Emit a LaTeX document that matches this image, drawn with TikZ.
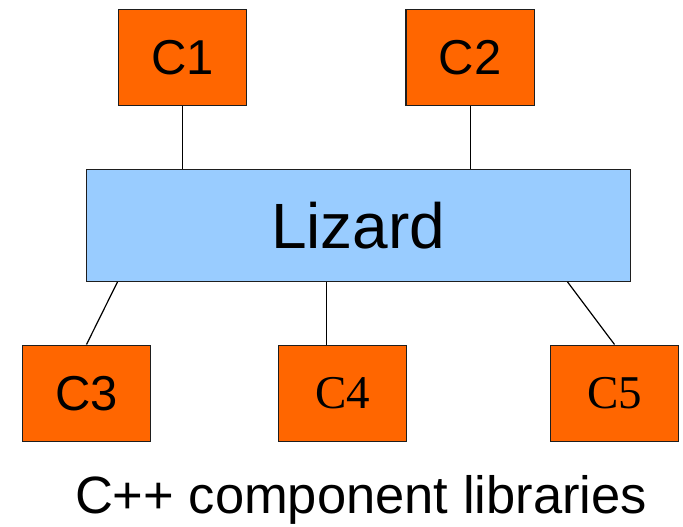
\documentclass[tikz,border=0pt]{standalone}
\usepackage{fontspec}
\setmainfont{Liberation Sans}
\newfontfamily\seriffont{Liberation Serif}
\definecolor{comporange}{HTML}{FF6600}
\definecolor{lizblue}{HTML}{99CCFF}
\definecolor{edgegray}{HTML}{1E1E1E}
\begin{document}
\begin{tikzpicture}[x=1pt,y=-1pt,
  compbox/.style={draw=edgegray,line width=1.4pt,fill=comporange,
    minimum width=128.5pt,minimum height=96pt,inner sep=0pt,
    font=\fontsize{49}{59}\selectfont},
  serifcomp/.style={compbox,font=\fontsize{47}{56}\seriffont},
  corebox/.style={draw=edgegray,line width=1.4pt,fill=lizblue,
    minimum width=544pt,minimum height=112pt,inner sep=0pt,
    font=\fontsize{64}{77}\selectfont},
  link/.style={draw=black,line width=1.2pt}]
  \useasboundingbox (0,0) rectangle (683,527);

  % core library and the components around it
  \node[corebox] (liz) at (358.2,225.2) {Lizard};
  \node[compbox] (c1) at (182.5,57.3) {C1};
  \node[compbox] (c2) at (470.3,57.3) {C2};
  \node[compbox] (c3) at (86.5,393.2) {C3};
  \node[serifcomp] (c4) at (342.5,393.2) {C4};
  \node[serifcomp] (c5) at (614.5,393.2) {C5};

  % connectors
  \draw[link] (c1.south) -- (c1.south |- liz.north);
  \draw[link] (c2.south) -- (c2.south |- liz.north);
  \draw[link] (c3.north) -- ([xshift=32pt]liz.south west);
  \draw[link] ([xshift=-15.8pt]c4.north) -- ([xshift=-15.8pt]c4.north |- liz.south);
  \draw[link] (c5.north) -- ([xshift=-63.4pt]liz.south east);

  % caption
  \node[anchor=base,inner sep=0pt,font=\fontsize{52.5}{63}\selectfont] (cap)
    at (361,513) {C++ component libraries};
\end{tikzpicture}
\end{document}
